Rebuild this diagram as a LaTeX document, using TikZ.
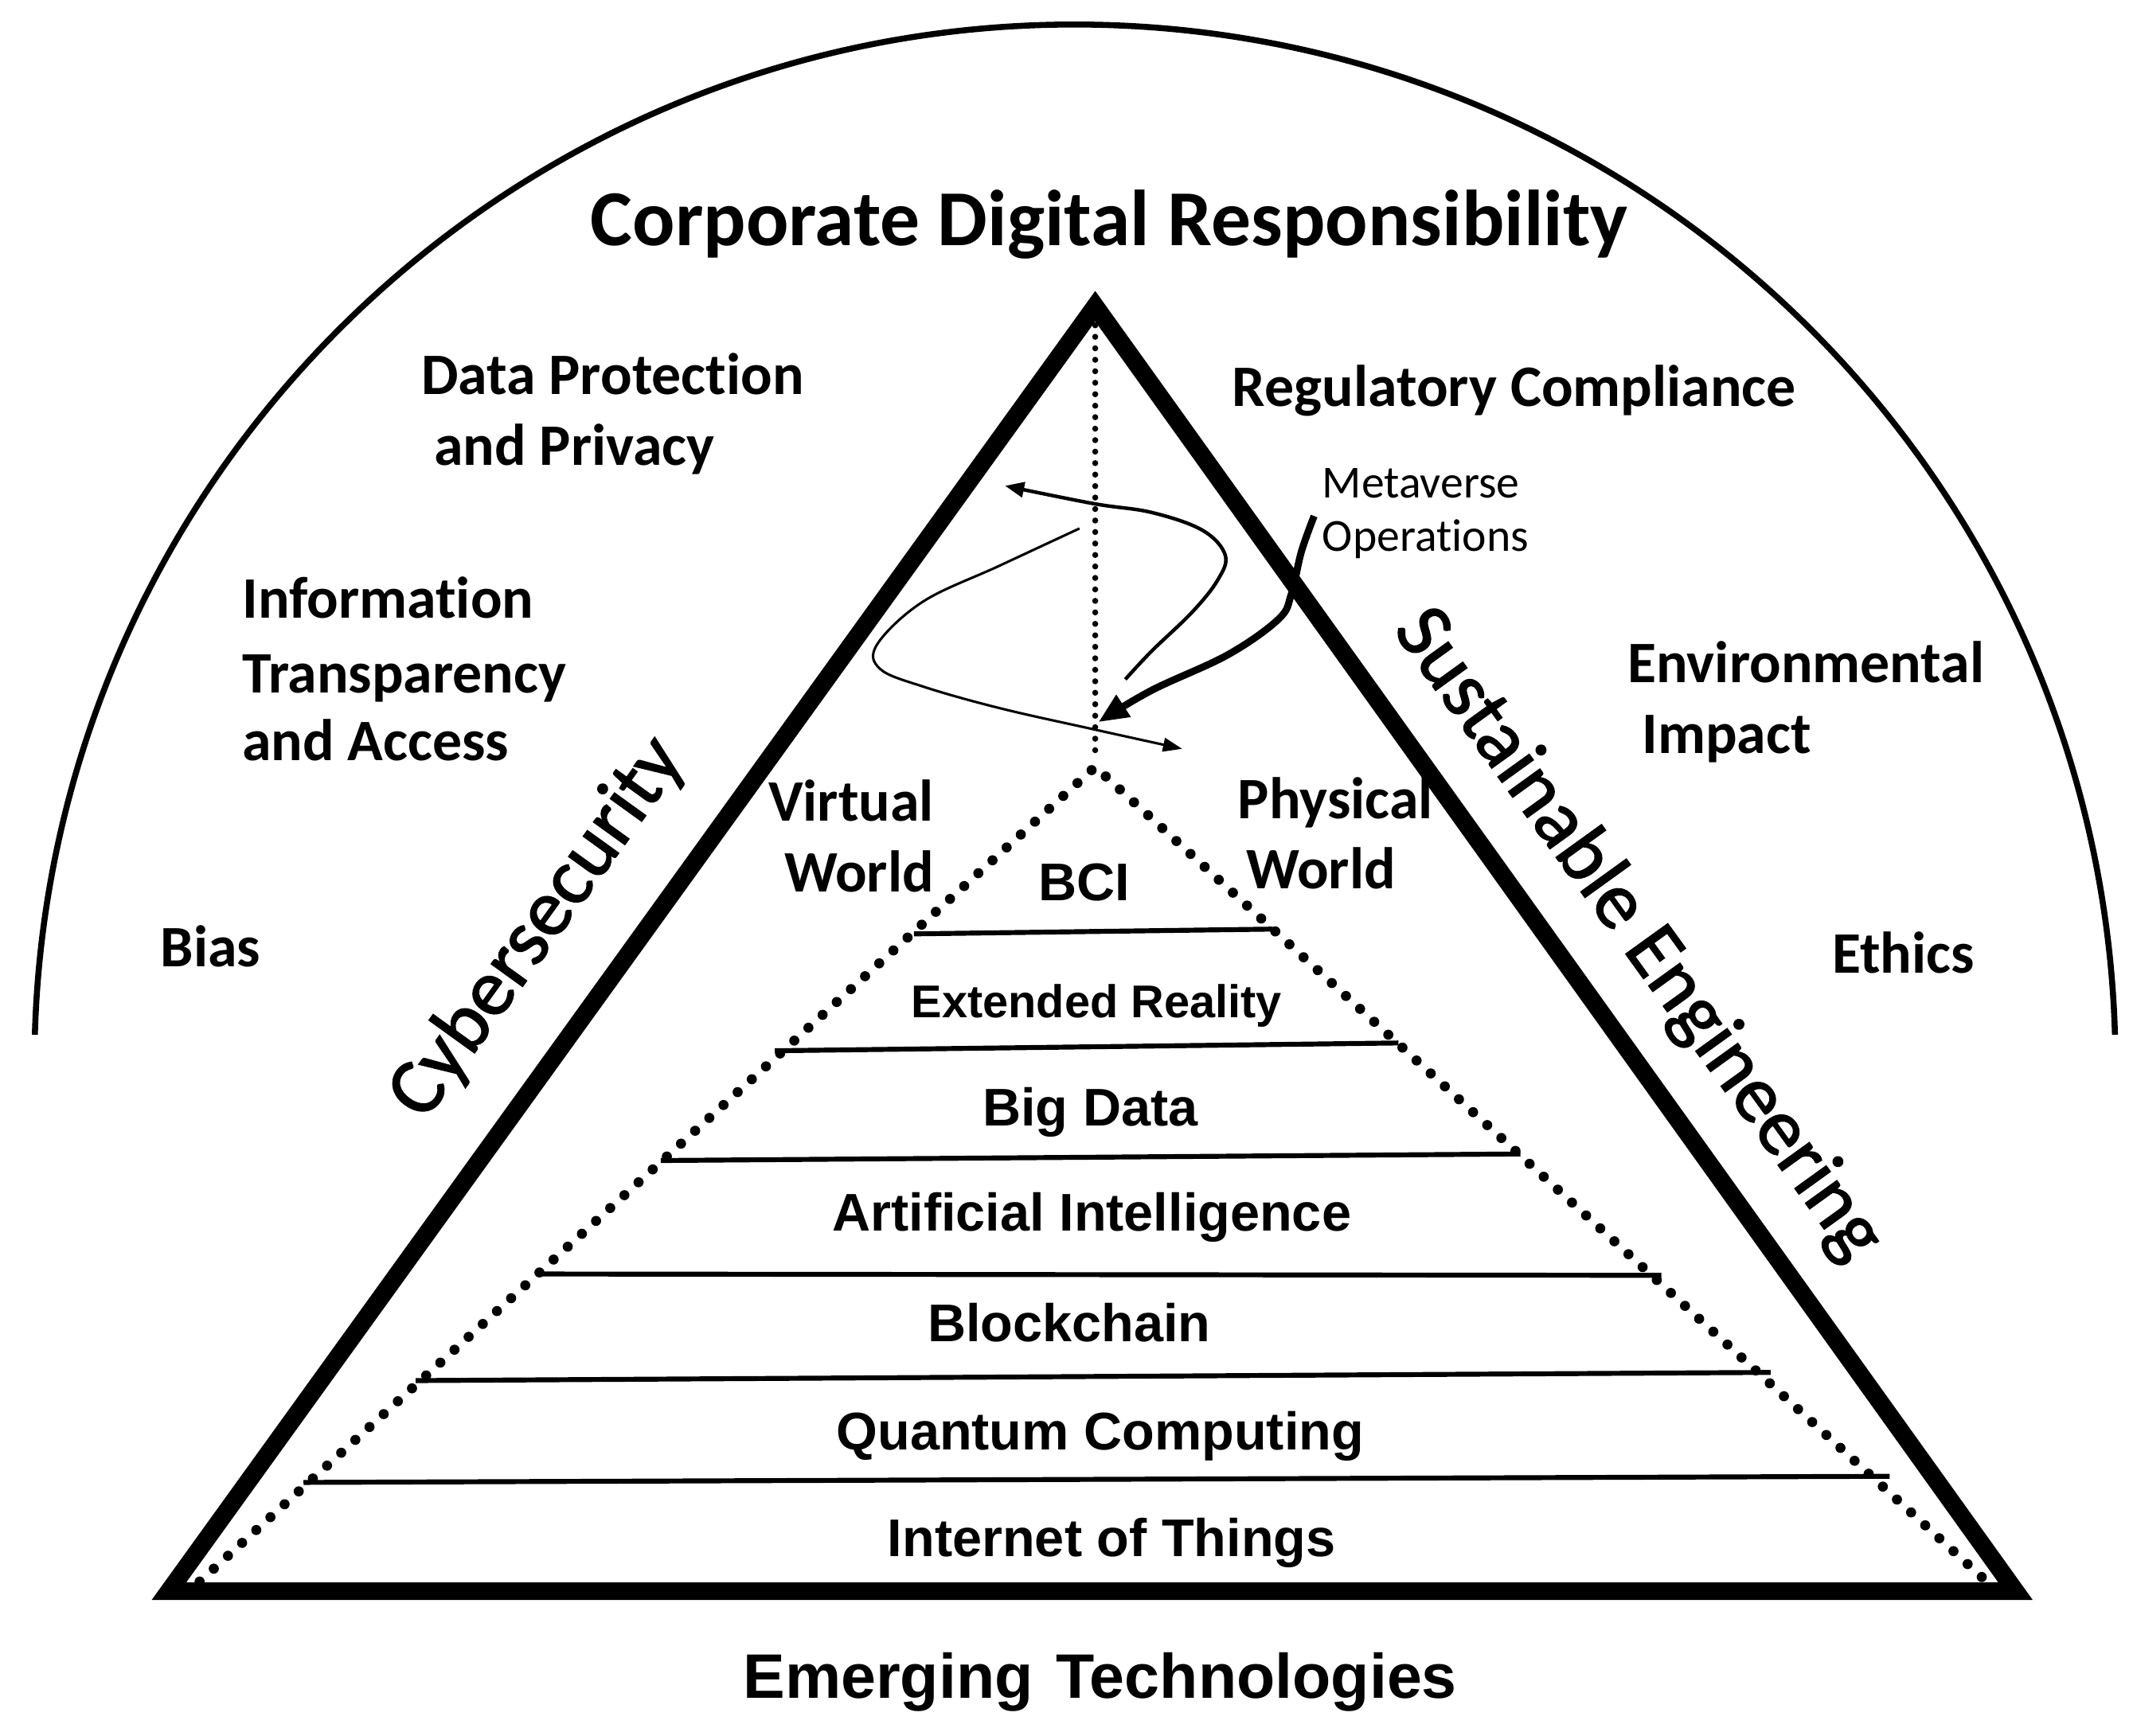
\documentclass[tikz,border=0pt]{standalone}
\usepackage{fontspec}
\setmainfont{Carlito}[Ligatures=CommonOff]
\newfontfamily\rotfont{Carlito}[Ligatures=CommonOff,FakeBold=1.6]
\newfontfamily\arialf{Liberation Sans}
\usetikzlibrary{arrows.meta}
\begin{document}
\begin{tikzpicture}[x=0.5pt,y=-0.5pt,
  lbl/.style={inner sep=0pt, font=\bfseries\fontsize{21.5}{26}\selectfont},
  rotlbl/.style={inner sep=0pt, font=\rotfont\fontsize{29.5}{34}\selectfont},
  meta/.style={inner sep=0pt, font=\fontsize{16.8}{20}\selectfont},
  layer/.style={inner sep=0pt, font=\arialf\bfseries\fontsize{19.4}{23}\selectfont},
  layersmall/.style={inner sep=0pt, font=\arialf\bfseries\fontsize{16.8}{20}\selectfont},
  sepline/.style={line width=1.8pt},
  dotline/.style={line width=3.7pt, dash pattern=on 0pt off 7pt, line cap=round},
  vdotline/.style={line width=2.2pt, dash pattern=on 0pt off 4.2pt, line cap=round},
  thinarrow/.style={line width=0.9pt, -{Triangle[length=7pt,width=5pt]}},
  medarrow/.style={line width=1.3pt, -{Triangle[length=7pt,width=5.5pt]}},
  bigarrow/.style={line width=2.6pt, -{Triangle[length=11pt,width=9pt]}}]
\useasboundingbox (0,0) rectangle (1560,1270);

% outer arc
\draw[line width=2.2pt] (25.5,757) arc[start angle=181.65, end angle=358.35, radius=761];

% outer triangle
\draw[line width=6.5pt, line join=miter] (801,224) -- (1474,1164) -- (123.6,1164) -- cycle;

% inner dotted triangle and vertical dotted line
\draw[dotline] (146,1157) -- (801,561) -- (1453,1157);
\draw[vdotline] (801,238) -- (801,552);

% layer separators
\draw[sepline] (668.4,683.2) -- (930.7,679.7);
\draw[sepline] (566.7,768.7) -- (1022.8,763);
\draw[sepline] (483.3,849) -- (1112,844.2);
\draw[sepline] (393,932) -- (1215,933);
\draw[sepline] (304,1010) -- (1295,1004);
\draw[sepline] (222,1084.5) -- (1382,1080);

% metaverse curves
\draw[medarrow] plot[smooth, tension=0.6] coordinates {(823,497) (842.3,476.3) (872,447.7) (890.6,424.3) (896.1,406.1) (879.4,387.9) (842.3,374.9) (799.6,368.4) (735,355.4)};
\draw[thinarrow] plot[smooth, tension=0.6] coordinates {(789.5,386.6) (730.9,413.9) (675.2,440) (641.7,471.1) (643.6,489.3) (675.2,502.3) (730.9,518) (799.6,533.5) (864.6,547.8)};
\draw[bigarrow] plot[smooth, tension=0.6] coordinates {(961.1,377.5) (951.8,403.5) (944.4,434.7) (935.1,452.9) (898,479) (842.3,505) (803.3,528.3)};

% titles
\node[inner sep=0pt, anchor=base west, font=\bfseries\fontsize{29}{34}\selectfont] (cdr) at (431.6,179.4) {Corporate Digital Responsibility};
\node[inner sep=0pt, anchor=base, font=\arialf\bfseries\fontsize{23}{27}\selectfont] (et) at (804.5,1242.4) {Emerging\hspace{2pt} Technologies};

% outer labels
\node[lbl, anchor=base west] (dp1) at (307.8,288.6) {Data Protection};
\node[lbl, anchor=base west] (dp2) at (317.2,340.6) {and Privacy};
\node[lbl, anchor=base west] (it1) at (176.8,452.4) {Information};
\node[lbl, anchor=base west] (it2) at (176.8,507) {Transparency};
\node[lbl, anchor=base west] (it3) at (176.8,556.4) {and Access};
\node[lbl, anchor=base west] (bias) at (117,707.2) {Bias};
\node[lbl, anchor=base west] (reg) at (901,297) {Regulatory Compliance};
\node[lbl, anchor=base west] (env1) at (1190,499.5) {Environmental};
\node[lbl, anchor=base west] (env2) at (1200.5,551.4) {Impact};
\node[lbl, anchor=base west] (eth) at (1339.6,711.8) {Ethics};
\node[meta, anchor=base west] (mv1) at (966.7,364.5) {Metaverse};
\node[meta, anchor=base west] (mv2) at (966.7,403.5) {Operations};

% worlds
\node[lbl, anchor=base west] (vw1) at (561.6,600.6) {Virtual};
\node[lbl, anchor=base west] (vw2) at (573.3,652.5) {World};
\node[lbl, anchor=base west] (pw1) at (905,599) {Physical};
\node[lbl, anchor=base west] (pw2) at (911,650.3) {World};

% rotated side labels
\node[rotlbl, rotate=54.2] (cyber) at (393.5,679) {Cybersecurity};
\node[rotlbl, rotate=-54.2] (sust) at (1198,684) {Sustainable Engineering};

% layers
\node[layer, anchor=base] (bci) at (793,659.1) {BCI};
\node[layersmall, anchor=base] (xr) at (802,744.6) {Extended Reality};
\node[layer, anchor=base] (bd) at (797.4,823.5) {Big Data};
\node[layer, anchor=base] (ai) at (798.5,900.3) {Artificial Intelligence};
\node[layer, anchor=base] (bc) at (782,981.4) {Blockchain};
\node[layer, anchor=base] (qc) at (804.6,1060.4) {Quantum Computing};
\node[layer, anchor=base] (iot) at (813,1138.5) {Internet of Things};
\end{tikzpicture}
\end{document}
